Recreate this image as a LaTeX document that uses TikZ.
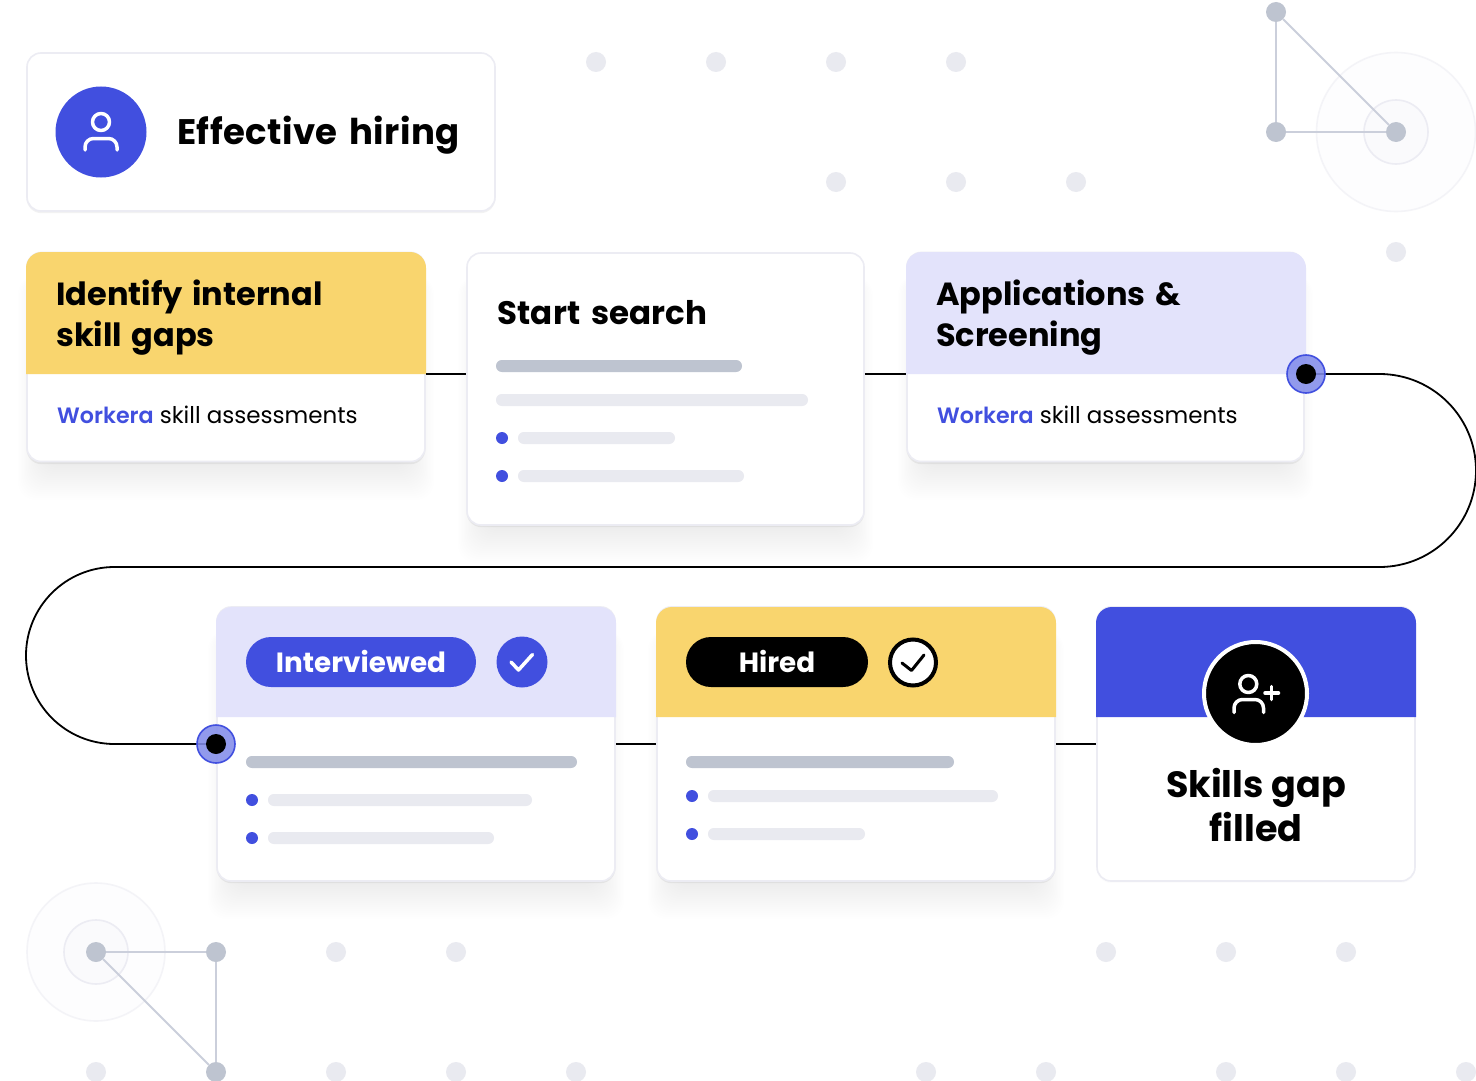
\documentclass[tikz,border=0pt]{standalone}
\usepackage{fontspec}
\setmainfont{Poppins}
\newfontfamily\psemi{Poppins SemiBold}
\newfontfamily\lsA{Poppins}[LetterSpace=1.2]
\newfontfamily\lsB{Poppins}[LetterSpace=0.6]
\newcommand{\wsp}{\hspace{.3em}}
\newcommand{\wk}{\textcolor{brand}{\fontsize{22.2}{28}\selectfont\psemi Workera}}
\definecolor{brand}{HTML}{414FDF}
\definecolor{sun}{HTML}{F9D56E}
\definecolor{lilac}{HTML}{E3E3FB}
\definecolor{steel}{HTML}{BEC4D0}
\definecolor{mist}{HTML}{E9EAF0}
\definecolor{edge}{HTML}{ECECF3}
\definecolor{tri}{HTML}{CBCFDB}
\tikzset{
  bgdot/.style={circle,fill=mist,minimum size=20pt,inner sep=0pt},
  netdot/.style={circle,fill=steel,minimum size=20pt,inner sep=0pt},
  netline/.style={draw=tri,line width=2pt},
  halo/.style={draw=edge,line width=1.6pt},
  wire/.style={draw=black,line width=1.8pt},
  cardbox/.style={rectangle,rounded corners=14pt,fill=white,draw=edge,line width=1.6pt,inner sep=0pt},
  joint/.style={circle,fill=brand!65!white,draw=brand,line width=1.6pt,minimum size=38pt,inner sep=0pt,fill opacity=.88},
  jointcore/.style={circle,fill=black,minimum size=20pt,inner sep=0pt},
  head/.style={font=\fontsize{32}{40.5}\selectfont\bfseries,anchor=west,align=left,inner sep=0pt},
  sub/.style={font=\fontsize{23}{28}\selectfont,anchor=base west,inner sep=0pt},
  pilltext/.style={font=\fontsize{27.8}{32}\selectfont\bfseries,text=white,inner sep=0pt},
  icon/.style={line width=3.5pt,line cap=round,line join=round},
}
\newcommand{\softshadow}[6]{% x1 y1 x2 y2 strength tight
  \foreach \i in {0,2,...,36}{
    \fill[black,opacity=#5,rounded corners=18pt]
      ({#1+0.7*\i-9},{#2+24}) rectangle ({#3-0.7*\i+9},{#4+38-\i});
  }
  \fill[black,opacity=#6,rounded corners=15pt] (#1-0.5,#2+10) rectangle (#3+0.5,#4+2.2);
}
\newcommand{\cardhead}[6]{% x1 y1 x2 y2 colour name
  \path[fill=#5] (#1,#4) -- (#1,#2+16)
     arc[start angle=180,delta angle=-90,radius=16pt] -- (#3-16,#2)
     arc[start angle=90,delta angle=-90,radius=16pt] -- (#3,#4) -- cycle;
  \coordinate (#6L) at (#1,#4); \coordinate (#6R) at (#3,#4);
}
\newcommand{\skbar}[5][steel]{\fill[#1,rounded corners=5.9pt] (#2,#3) rectangle (#4,#5);}
\newcommand{\bul}[2]{\fill[brand] (#1,#2) circle[radius=6pt];}
\begin{document}
\begin{tikzpicture}[x=1pt,y=-1pt]
\useasboundingbox (0,0) rectangle (1476,1081);
\fill[white] (0,0) rectangle (1476,1081);
% background dots
\foreach \n/\x/\y in {a/596/62,b/716/62,c/836/62,d/956/62,e/836/182,f/956/182,g/1076/182,h/1396/252,
  i/336/952,j/456/952,k/1106/952,l/1226/952,m/1346/952,
  n/96/1072,o/336/1072,p/456/1072,q/576/1072,r/926/1072,s/1046/1072,t/1226/1072,u/1346/1072,v/1466/1072}
  \node[bgdot] (bg\n) at (\x,\y) {};
% network top right
\fill[mist,opacity=.06] (1396,132) circle[radius=79.5pt];
\fill[mist,opacity=.14] (1396,132) circle[radius=32pt];
\draw[halo,opacity=.55] (1396,132) circle[radius=79.5pt];
\draw[halo] (1396,132) circle[radius=32pt];
\node[netdot] (ta) at (1276,12) {};
\node[netdot] (tb) at (1276,132) {};
\node[netdot] (tc) at (1396,132) {};
\draw[netline] (ta) -- (tb);
\draw[netline] (tb) -- (tc);
\draw[netline] (ta) -- (tc);
% network bottom left
\fill[mist,opacity=.06] (96,952) circle[radius=69pt];
\fill[mist,opacity=.14] (96,952) circle[radius=32pt];
\draw[halo,opacity=.55] (96,952) circle[radius=69pt];
\draw[halo] (96,952) circle[radius=32pt];
\node[netdot] (la) at (96,952) {};
\node[netdot] (lb) at (216,952) {};
\node[netdot] (lc) at (216,1072) {};
\draw[netline] (la) -- (lb);
\draw[netline] (lb) -- (lc);
\draw[netline] (la) -- (lc);
% shadows
\fill[black,opacity=0.05,rounded corners=15pt] (26.5,62) rectangle (495.5,213.2);
\softshadow{27}{252}{425}{462}{0.0032}{0.055}
\softshadow{467}{253}{864}{525}{0.0038}{0.055}
\softshadow{907}{252}{1304}{462}{0.0038}{0.055}
\softshadow{217}{607}{615}{881}{0.0038}{0.055}
\softshadow{657}{607}{1055}{881}{0.0038}{0.055}
\softshadow{1097}{607}{1415}{881}{0.0018}{0.012}
% top card
\node[cardbox,minimum width=468pt,minimum height=158pt] (top) at (261,132) {};
\node[circle,fill=brand,minimum size=91pt,inner sep=0pt] (topdisc) at (101,132) {};
\draw[white,icon] (101,122) circle[radius=8.5pt];
\draw[white,icon] (85,150) -- (85,147) arc[start angle=180,delta angle=-90,radius=8.5pt] -- (108.5,138.5) arc[start angle=90,delta angle=-90,radius=8.5pt] -- (117,150);
\node[font=\fontsize{35.5}{40}\selectfont,anchor=base west,inner sep=0pt] (toptext) at (177,144) {\lsA\bfseries Effective\hspace{.33em}hiring};
\coordinate (jA) at (1306,374);
\coordinate (jB) at (216,744);
% cards row 1
\node[cardbox,minimum width=398pt,minimum height=209pt] (c1) at (226,357) {};
\cardhead{26}{252}{426}{374}{sun}{h1}
\node[head] (c1t) at (56,317.5) {Identify\wsp internal\\skill\wsp gaps};
\node[sub] (c1s) at (57,423) {\wk{} skill assessments};

\node[cardbox,minimum width=397pt,minimum height=272pt] (c2) at (665.5,389) {};
\node[font=\fontsize{32.5}{40}\selectfont,anchor=base west,inner sep=0pt] (c2t) at (497,324) {\lsB\bfseries Start\hspace{.33em}search};
\skbar{496}{360}{742}{372}
\skbar[mist]{496}{394}{808}{406}
\bul{502}{438}
\skbar[mist]{518}{432}{675}{444}
\bul{502}{476}
\skbar[mist]{518}{470}{744}{482}

\node[cardbox,minimum width=397pt,minimum height=209pt] (c3) at (1105.5,357) {};
\cardhead{906}{252}{1306}{374}{lilac}{h3}
\node[head] (c3t) at (936,317.5) {Applications\wsp\&\\Screening};
\node[sub] (c3s) at (937,423) {\wk{} skill assessments};

% cards row 2
\node[cardbox,minimum width=398pt,minimum height=274pt] (c4) at (416,744) {};
\cardhead{216}{607}{616}{717}{lilac}{h4}
\node[rectangle,rounded corners=25pt,fill=brand,minimum width=230pt,minimum height=50pt,inner sep=0pt] (p4) at (361,662) {};
\node[pilltext,anchor=base] (p4t) at (361,672.5) {Interviewed};
\node[circle,fill=brand,minimum size=51pt,inner sep=0pt] (k4) at (522,662) {};
\draw[white,icon] (511,662) -- (518.5,670) -- (532.5,654.5);
\skbar{246}{756}{577}{768}
\bul{252}{800}
\skbar[mist]{268}{794}{532}{806}
\bul{252}{838}
\skbar[mist]{268}{832}{494}{844}

\node[cardbox,minimum width=398pt,minimum height=274pt] (c5) at (856,744) {};
\cardhead{656}{607}{1056}{717}{sun}{h5}
\node[rectangle,rounded corners=25pt,fill=black,minimum width=182pt,minimum height=50pt,inner sep=0pt] (p5) at (777,662) {};
\node[pilltext,anchor=base] (p5t) at (777,672.5) {Hired};
\node[circle,fill=white,draw=black,line width=4pt,minimum size=46pt,inner sep=0pt] (k5) at (913,662.5) {};
\draw[black,line width=3pt,line cap=round,line join=round] (902,663) -- (911.5,670.5) -- (924,655);
\skbar{686}{756}{954}{768}
\bul{692}{796}
\skbar[mist]{708}{790}{998}{802}
\bul{692}{834}
\skbar[mist]{708}{828}{865}{840}

\node[cardbox,minimum width=318pt,minimum height=274pt] (c6) at (1256,744) {};
\cardhead{1096}{607}{1416}{717}{brand}{h6}
\node[circle,fill=black,draw=white,line width=4pt,minimum size=103pt,inner sep=0pt] (k6) at (1255.5,693.5) {};
\draw[white,icon] (1248.3,684) circle[radius=8.5pt];
\draw[white,icon] (1234,712.5) -- (1234,708) arc[start angle=180,delta angle=-90,radius=8.5pt] -- (1255,699.5) arc[start angle=90,delta angle=-90,radius=8.5pt] -- (1263.5,712.5);
\draw[white,icon] (1265,693) -- (1278.5,693) (1271.7,686.5) -- (1271.7,699.5);
\node[font=\fontsize{36.5}{44}\selectfont\bfseries,align=center,inner sep=0pt] (c6t) at (1256,805) {Skills gap\\filled};

% connectors
\draw[wire] (h1R) -- (c2.west |- h1R);
\draw[wire] (c2.east |- h3L) -- (h3L);
\draw[wire] (c4.east) -- (c5.west);
\draw[wire] (c5.east) -- (c6.west);
\draw[wire] (jA) -- (1379.5,374) arc[start angle=90,delta angle=-180,radius=96.5pt] -- (114.5,567) arc[start angle=90,delta angle=180,radius=88.5pt] -- (jB);
\node[joint] (ringA) at (jA) {};
\node[jointcore] (coreA) at (jA) {};
\node[joint] (ringB) at (jB) {};
\node[jointcore] (coreB) at (jB) {};
\end{tikzpicture}
\end{document}
